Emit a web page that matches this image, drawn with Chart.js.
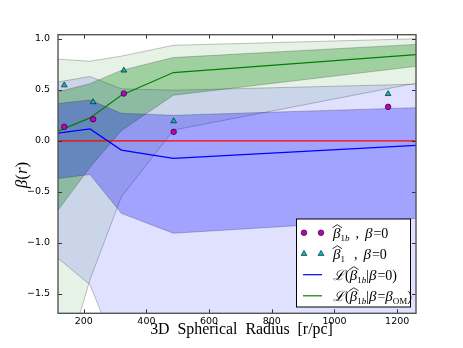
<!DOCTYPE html>
<html>
<head>
<meta charset="utf-8">
<script src="https://cdn.jsdelivr.net/npm/chart.js@4.4.1/dist/chart.umd.min.js"></script>
<style>
  html, body { margin: 0; padding: 0; background: #fff; }
</style>
</head>
<body>
<canvas id="betaChart" width="463" height="348"></canvas>
<script>
// model grid radii (pc) and the two likelihood curves with 1 and 2 sigma bands
const modelRadius = [118, 220, 320, 486, 1260];
const blueMean = [0.075, 0.117, -0.091, -0.172, -0.045];
const blueUp1 = [0.366, 0.40, 0.27, 0.25, 0.325];
const blueLo1 = [-0.37, -0.33, -0.71, -0.906, -0.76];
const blueUp2 = [0.577, 0.63, 0.51, 0.496, 0.555];
const blueLo2 = [-1.15, -1.41, -2.17, -2.6, -2.6];
const greenMean = [0.095, 0.225, 0.447, 0.669, 0.845];
const greenUp1 = [0.48, 0.56, 0.69, 0.816, 0.945];
const greenLo1 = [-0.68, -0.26, 0.10, 0.447, 0.73];
const greenUp2 = [0.80, 0.78, 0.83, 0.936, 1.0];
const greenLo2 = [-2.42, -1.36, -0.55, 0.105, 0.565];

// binned estimates
const binRadius = [138, 230, 328, 487, 1171];
const beta1b = [0.137, 0.212, 0.464, 0.088, 0.333];
const beta1 = [0.545, 0.38, 0.69, 0.193, 0.46];

const zeroBeta = [0, 0];
const xRange = [118, 1260];
const yRange = [-1.69, 1.04];
const xTicks = [200, 400, 600, 800, 1000, 1200];
const yTicks = [-1.5, -1.0, -0.5, 0.0, 0.5, 1.0];

const pts = (xs, ys) => xs.map((x, i) => ({ x: x, y: ys[i] }));
const edge = 'rgba(40,40,40,0.35)';

function band(up, lo, fillColor, order) {
    return [
        { data: pts(modelRadius, up), borderColor: edge, borderWidth: 0.8, backgroundColor: fillColor,
          fill: '+1', pointRadius: 0, order: order, clip: 0 },
        { data: pts(modelRadius, lo), borderColor: edge, borderWidth: 0.8, fill: false,
          pointRadius: 0, order: order, clip: 0 }
    ];
}

// math-ish text drawn piece by piece
function mathText(ctx, x, y, parts) {
    parts.forEach(p => {
        x += p.gap || 0;
        ctx.font = p.f;
        const w = ctx.measureText(p.t).width;
        ctx.fillText(p.t, x, y + (p.dy || 0));
        if (p.hat) {
            ctx.beginPath();
            ctx.moveTo(x - 0.5, y - 10);
            ctx.lineTo(x + w / 2 + 0.5, y - 13);
            ctx.lineTo(x + w + 1.5, y - 10);
            ctx.lineWidth = 0.8;
            ctx.stroke();
        }
        x += w;
    });
}

const BETA = "italic 15px 'Liberation Serif'";
const ROM = "14px 'Liberation Serif'";
const SUB = "9px 'Liberation Serif'";
const SUBI = "italic 9px 'Liberation Serif'";

const frameAndLegend = {
    id: 'frameAndLegend',
    afterDraw(chart) {
        const ctx = chart.ctx;
        const a = chart.chartArea;
        const xs = chart.scales.x, ys = chart.scales.y;
        ctx.save();

        // inward ticks on all sides
        ctx.strokeStyle = '#333';
        ctx.lineWidth = 1;
        ctx.beginPath();
        xTicks.forEach(v => {
            const px = Math.round(xs.getPixelForValue(v)) + 0.5;
            ctx.moveTo(px, a.bottom); ctx.lineTo(px, a.bottom - 4);
            ctx.moveTo(px, a.top); ctx.lineTo(px, a.top + 4);
        });
        yTicks.forEach(v => {
            const py = Math.round(ys.getPixelForValue(v)) + 0.5;
            ctx.moveTo(a.left, py); ctx.lineTo(a.left + 4, py);
            ctx.moveTo(a.right, py); ctx.lineTo(a.right - 4, py);
        });
        ctx.stroke();

        ctx.strokeStyle = '#555';
        ctx.lineWidth = 1.4;
        ctx.strokeRect(a.left, a.top, a.right - a.left, a.bottom - a.top);

        // axis titles
        ctx.fillStyle = '#000';
        ctx.strokeStyle = '#000';
        ctx.textAlign = 'center';
        ctx.textBaseline = 'alphabetic';
        ctx.font = "15px 'Liberation Serif'";
        const xt = '3D  Spherical  Radius  [r/pc]';
        const sc = 183 / ctx.measureText(xt).width;
        ctx.font = (15 * sc).toFixed(1) + "px 'Liberation Serif'";
        ctx.fillText(xt, 241.5, 333.5);

        ctx.save();
        ctx.translate(27, 175);
        ctx.rotate(-Math.PI / 2);
        ctx.font = "italic 17px 'Liberation Serif'";
        const w1 = ctx.measureText('β').width, w3 = ctx.measureText('r').width;
        ctx.font = "17px 'Liberation Serif'";
        const w2 = ctx.measureText('(').width;
        const tot = w1 + w2 * 2 + w3;
        ctx.textAlign = 'left';
        mathText(ctx, -tot / 2, 0, [
            { t: 'β', f: "italic 17px 'Liberation Serif'" },
            { t: '(', f: "17px 'Liberation Serif'" },
            { t: 'r', f: "italic 17px 'Liberation Serif'" },
            { t: ')', f: "17px 'Liberation Serif'" }
        ]);
        ctx.restore();

        // legend
        const lx = 296.5, ly = 219, lw = 114, lh = 88;
        ctx.fillStyle = '#fff';
        ctx.fillRect(lx, ly, lw, lh);
        ctx.strokeStyle = '#000';
        ctx.lineWidth = 1;
        ctx.strokeRect(lx, ly, lw, lh);

        const rows = [232.7, 253.7, 274.7, 295.8];
        const h0 = 304, h1 = 321;
        ctx.lineWidth = 0.6;
        [h0, h1].forEach(hx => {
            ctx.beginPath();
            ctx.arc(hx, rows[0], 2.8, 0, Math.PI * 2);
            ctx.fillStyle = 'rgb(191,0,191)';
            ctx.fill();
            ctx.strokeStyle = '#000';
            ctx.stroke();
            ctx.beginPath();
            ctx.moveTo(hx, rows[1] - 3.3);
            ctx.lineTo(hx + 2.9, rows[1] + 1.7);
            ctx.lineTo(hx - 2.9, rows[1] + 1.7);
            ctx.closePath();
            ctx.fillStyle = 'rgb(0,191,191)';
            ctx.fill();
            ctx.stroke();
        });
        ctx.lineWidth = 1.2;
        ctx.strokeStyle = 'rgb(0,0,255)';
        ctx.beginPath(); ctx.moveTo(303, rows[2]); ctx.lineTo(322, rows[2]); ctx.stroke();
        ctx.strokeStyle = 'rgb(0,128,0)';
        ctx.beginPath(); ctx.moveTo(303, rows[3]); ctx.lineTo(322, rows[3]); ctx.stroke();

        ctx.fillStyle = '#000';
        ctx.strokeStyle = '#000';
        ctx.textAlign = 'left';
        mathText(ctx, 333, rows[0] + 5, [
            { t: 'β', f: BETA, hat: true }, { t: '1', f: SUB, dy: 3 }, { t: 'b', f: SUBI, dy: 3 },
            { t: ',', f: ROM, gap: 6 }, { t: 'β', f: BETA, gap: 6 }, { t: '=', f: ROM, gap: 1 }, { t: '0', f: ROM }
        ]);
        mathText(ctx, 333, rows[1] + 5, [
            { t: 'β', f: BETA, hat: true }, { t: '1', f: SUB, dy: 3 },
            { t: ',', f: ROM, gap: 9 }, { t: 'β', f: BETA, gap: 6 }, { t: '=', f: ROM, gap: 1 }, { t: '0', f: ROM }
        ]);
        mathText(ctx, 333, rows[2] + 5, [
            { t: 'ℒ', f: "italic 14px 'DejaVu Serif'" }, { t: '(', f: ROM },
            { t: 'β', f: BETA, hat: true }, { t: '1', f: SUB, dy: 3 }, { t: 'b', f: SUBI, dy: 3 },
            { t: '|', f: ROM }, { t: 'β', f: BETA }, { t: '=', f: ROM, gap: 1 }, { t: '0', f: ROM }, { t: ')', f: ROM }
        ]);
        mathText(ctx, 333, rows[3] + 5, [
            { t: 'ℒ', f: "italic 14px 'DejaVu Serif'" }, { t: '(', f: ROM },
            { t: 'β', f: BETA, hat: true }, { t: '1', f: SUB, dy: 3 }, { t: 'b', f: SUBI, dy: 3 },
            { t: '|', f: ROM }, { t: 'β', f: BETA }, { t: '=', f: ROM, gap: 1 }, { t: 'β', f: BETA },
            { t: 'OM', f: SUB, dy: 3 }, { t: ')', f: ROM }
        ]);

        ctx.restore();
    }
};

const datasets = [
    { data: pts(binRadius, beta1b), showLine: false, pointStyle: 'circle', pointRadius: 2.8,
      pointBackgroundColor: 'rgb(191,0,191)', pointBorderColor: '#000', pointBorderWidth: 0.6, order: 0 },
    { data: pts(binRadius, beta1), showLine: false, pointStyle: 'triangle', pointRadius: 3.3,
      pointBackgroundColor: 'rgb(0,191,191)', pointBorderColor: '#000', pointBorderWidth: 0.6, order: 0 },
    { data: pts(modelRadius, blueMean), borderColor: 'rgb(0,0,255)', borderWidth: 1.2, pointRadius: 0, fill: false, order: 1, clip: 0 },
    { data: pts(modelRadius, greenMean), borderColor: 'rgb(0,128,0)', borderWidth: 1.2, pointRadius: 0, fill: false, order: 1, clip: 0 },
    { data: pts(xRange, zeroBeta), borderColor: 'rgb(255,0,0)', borderWidth: 1.3, pointRadius: 0, fill: false, order: 2, clip: 0 }
].concat(
    band(greenUp2, greenLo2, 'rgba(0,128,0,0.10)', 6),
    band(blueUp2, blueLo2, 'rgba(0,0,255,0.12)', 5),
    band(greenUp1, greenLo1, 'rgba(0,128,0,0.30)', 4),
    band(blueUp1, blueLo1, 'rgba(0,0,255,0.28)', 3)
);

const betaChart = new Chart(document.getElementById('betaChart').getContext('2d'), {
    type: 'line',
    data: { datasets: datasets },
    options: {
        responsive: false,
        animation: false,
        devicePixelRatio: 1,
        layout: { padding: { top: 34.7, right: 47, left: 0, bottom: 0 } },
        plugins: { legend: { display: false }, tooltip: { enabled: false } },
        elements: { line: { tension: 0 } },
        scales: {
            x: {
                type: 'linear', min: xRange[0], max: xRange[1],
                grid: { display: false, drawTicks: false }, border: { display: false },
                afterBuildTicks: s => { s.ticks = xTicks.map(v => ({ value: v })); },
                afterFit: s => { s.height = 34.7; },
                ticks: { padding: 3, color: '#000', maxRotation: 0, autoSkip: false,
                         font: { family: 'DejaVu Sans', size: 9.5 },
                         callback: v => String(v) }
            },
            y: {
                type: 'linear', min: yRange[0], max: yRange[1],
                grid: { display: false, drawTicks: false }, border: { display: false },
                afterBuildTicks: s => { s.ticks = yTicks.map(v => ({ value: v })); },
                afterFit: s => { s.width = 58; },
                ticks: { padding: 8, color: '#000', autoSkip: false,
                         font: { family: 'DejaVu Sans', size: 9.5 },
                         callback: v => v.toFixed(1).replace('-', '\u2212') }
            }
        }
    },
    plugins: [frameAndLegend]
});
</script>
</body>
</html>
